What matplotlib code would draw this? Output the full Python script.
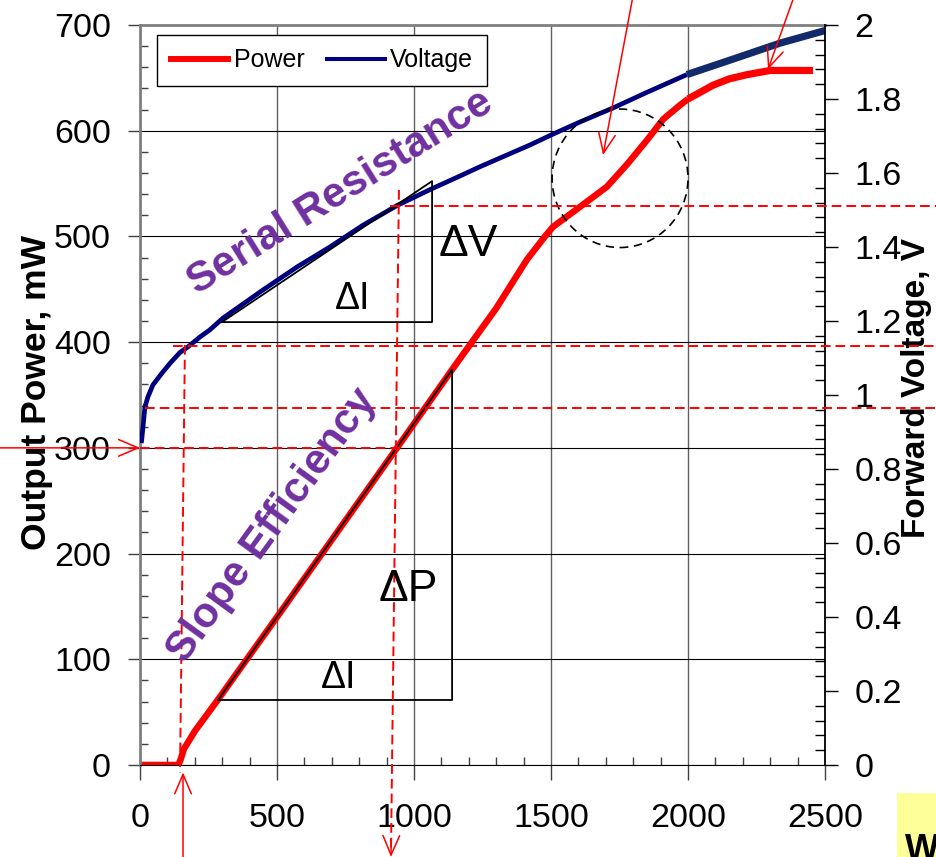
import matplotlib
matplotlib.use('Agg')
import matplotlib.pyplot as plt
from matplotlib.patches import Ellipse, Rectangle
from matplotlib.lines import Line2D
from matplotlib.ticker import MultipleLocator, FormatStrFormatter

plt.rcParams['font.family'] = ['Liberation Sans', 'DejaVu Sans']
plt.rcParams['lines.scale_dashes'] = False

# measured output power (mA -> mW)
current_p = [0, 140, 148, 160, 200, 285, 500, 700, 938, 1139, 1300, 1412, 1478, 1507,
             1606, 1704, 1777, 1850, 1910, 1970, 2000]
power = [0, 0, 5, 15, 32, 62, 140, 213, 300, 374, 432, 478, 500, 509,
         528, 547, 568, 591, 611, 624, 630]
# high current part (smooth)
current_p_hi = [2000, 2091, 2150, 2215, 2300, 2456]
power_hi = [630, 643, 649, 653, 657, 657]

# measured forward voltage (mA -> V)
current_v = [5, 11, 18, 29, 47, 80, 110, 146, 175, 219, 255, 303, 449, 573, 693, 814,
             938, 1058, 1168, 1241, 1424, 1507, 1606, 1727, 1850, 1996]
voltage = [0.87, 0.914, 0.968, 0.995, 1.027, 1.059, 1.086, 1.115, 1.130, 1.157, 1.176,
           1.208, 1.284, 1.346, 1.400, 1.459, 1.512, 1.555, 1.592, 1.617, 1.676, 1.705,
           1.738, 1.776, 1.818, 1.866]
current_v_hi = [1996, 2153, 2336, 2500]
voltage_hi = [1.866, 1.905, 1.951, 1.985]

# annotation values
i_th = [164, 146]          # threshold current guide (top, bottom)
i_op = [945, 916]          # operating point guide (top, bottom)
p_op = 300
v_guides = [0.965, 1.132, 1.512]
v_guide_start = [18, 120, 912]
rs_tri_i = [299, 1066]
rs_tri_v = [1.197, 1.578]
se_tri_i = [285, 1139]
se_tri_p = [61.5, 374]
kink_center = (1752, 555)

P_PER_V = 350.0  # 700 mW <-> 2 V
red = '#FF0000'
purple = '#7030A0'

fig = plt.figure(figsize=(9.37, 8.57), dpi=100)
ax = fig.add_axes([0.14941, 0.10735, 0.73106, 0.86348])
ax2 = ax.twinx()

ax.plot(current_p, power, color=red, lw=4.7, solid_capstyle='butt')
ax.plot(current_p_hi, power_hi, color=red, lw=5.2, solid_capstyle='butt')
ax2.plot(current_v, voltage, color='#00007F', lw=3.4, solid_capstyle='butt')
ax2.plot(current_v_hi, voltage_hi, color='#102A6A', lw=5.2, solid_capstyle='butt')

# axes / ticks
ax.set_xlim(0, 2500)
ax.set_ylim(0, 700)
ax2.set_ylim(0, 2)
ax.xaxis.set_major_locator(MultipleLocator(500))
ax.xaxis.set_minor_locator(MultipleLocator(100))
ax.yaxis.set_major_locator(MultipleLocator(100))
ax.yaxis.set_minor_locator(MultipleLocator(20))
ax2.yaxis.set_major_locator(MultipleLocator(0.2))
ax2.yaxis.set_minor_locator(MultipleLocator(0.04))
ax2.yaxis.set_major_formatter(FormatStrFormatter('%g'))

ax.tick_params(axis='x', which='major', direction='out', length=11, width=1,
               color='#404040', labelsize=24.5, pad=16)
ax.tick_params(axis='x', which='minor', direction='in', length=6, width=1, color='#404040')
ax.tick_params(axis='y', which='major', direction='out', length=9, width=1,
               color='#404040', labelsize=24.5, pad=12)
ax.tick_params(axis='y', which='minor', direction='in', length=6, width=1, color='#404040')
ax2.tick_params(axis='y', which='major', direction='out', length=9, width=1,
                color='black', labelsize=24.5, pad=12)
ax2.tick_params(axis='y', which='minor', direction='in', length=7, width=1, color='black')

ax.yaxis.grid(True, color='black', lw=0.8)
ax.xaxis.grid(True, color='#606060', lw=1.0)

for s in ['top', 'left']:
    ax.spines[s].set_color('#808080')
    ax.spines[s].set_linewidth(2)
ax.spines['bottom'].set_color('black')
ax.spines['right'].set_visible(False)
for s in ['top', 'left', 'bottom']:
    ax2.spines[s].set_visible(False)
ax2.spines['right'].set_color('black')
ax2.spines['right'].set_linewidth(1.3)

ax.set_ylabel('Output Power, mW', fontsize=25.5, fontweight='bold')
ax.yaxis.set_label_coords(-0.127, 0.503)
ax2.set_ylabel('Forward Voltage, V', fontsize=24, fontweight='bold')
ax2.yaxis.set_label_coords(1.111, 0.509)

# guide lines (power units on ax2, drawn on top)
tp = ax.transData
dash = dict(color=red, lw=1.4, dashes=(7, 3.6), clip_on=False, zorder=5, transform=tp)
for v, i0 in zip(v_guides, v_guide_start):
    ax2.plot([i0, 2950], [v * P_PER_V, v * P_PER_V], **dash)
ax2.plot([0, i_op[0]], [p_op, p_op], **dash)
ax2.plot([i_th[0], i_th[1]], [1.135 * P_PER_V, -7], **dash)
ax2.plot([i_op[0], i_op[1]], [1.554 * P_PER_V, -82], **dash)

arrow = dict(arrowstyle='->,head_length=0.7,head_width=0.3', color=red, lw=1.1,
             mutation_scale=20, shrinkA=0, shrinkB=0)
arrows = [((-530, p_op), (0, p_op)),
          ((157, -95), (157, -7)),
          ((i_op[1] + 1, -70), (i_op[1], -87)),
          ((1812, 745), (1690, 577)),
          ((2412, 745), (2292, 658))]
for start, end in arrows:
    ax2.annotate('', xy=end, xycoords=tp, xytext=start, textcoords=tp,
                 arrowprops=arrow, annotation_clip=False, zorder=6)

# triangles
ax2.plot([rs_tri_i[0], rs_tri_i[1], rs_tri_i[1], rs_tri_i[0]],
         [rs_tri_v[0], rs_tri_v[0], rs_tri_v[1], rs_tri_v[0]],
         color='black', lw=1.3, zorder=4)
ax2.plot([se_tri_i[0], se_tri_i[1], se_tri_i[1], se_tri_i[0]],
         [se_tri_p[0], se_tri_p[0], se_tri_p[1], se_tri_p[0]],
         color='black', lw=1.3, zorder=4, transform=tp)

ax2.add_patch(Ellipse(kink_center, 496, 131, transform=tp, fill=False,
                      edgecolor='black', lw=1.2, linestyle=(0, (6, 4)), zorder=4))

# text
txt = dict(transform=tp, ha='center', va='center', zorder=7)
ax2.text(774, 441, '\u0394I', fontsize=27, **txt)
ax2.text(1197, 492, '\u0394V', fontsize=32, **txt)
ax2.text(978, 166, '\u0394P', fontsize=32, **txt)
ax2.text(723, 82, '\u0394I', fontsize=27, **txt)
ax2.text(730, 542, 'Serial Resistance', fontsize=30.5, fontweight='bold', color=purple,
         rotation=32, **txt)
ax2.text(482, 226, 'Slope Efficiency', fontsize=30.5, fontweight='bold', color=purple,
         rotation=54, **txt)

handles = [Line2D([], [], color=red, lw=4.3), Line2D([], [], color='#000080', lw=2.9)]
leg = ax2.legend(handles, ['Power', 'Voltage'], ncol=2, loc='upper left',
                 bbox_to_anchor=(0.025, 0.987), borderaxespad=0, fontsize=18,
                 handlelength=2.3, handletextpad=0.22, columnspacing=0.9,
                 borderpad=0.55, fancybox=False, framealpha=1, edgecolor='black')
leg.get_frame().set_linewidth(1.0)
leg.set_zorder(8)

# cropped yellow box at the bottom right
fig.add_artist(Rectangle((897 / 937, 0), 0.06, (857 - 793) / 857,
                         transform=fig.transFigure, facecolor='#FFFF99', edgecolor='none'))
fig.text(905 / 937, -3 / 857, 'W', fontsize=26, fontweight='bold', va='baseline')

fig.savefig('out.png', dpi=100)
